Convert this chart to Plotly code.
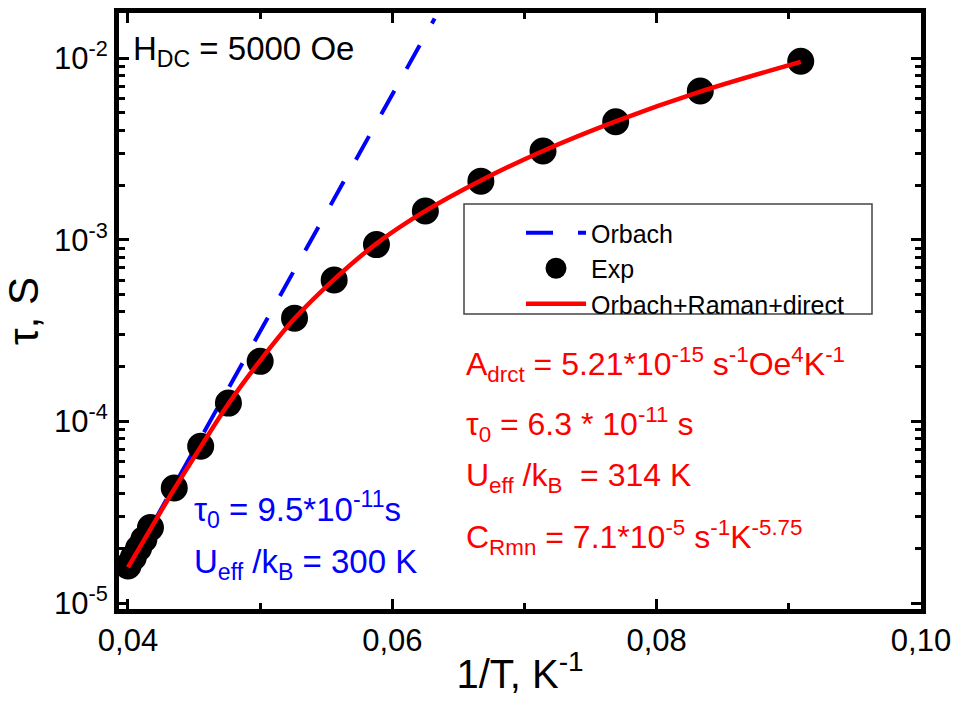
import plotly.graph_objects as go

# ---- data ----
exp_x = [0.0400, 0.0404, 0.0408, 0.0412, 0.0417, 0.0435, 0.0455, 0.0476, 0.0500,
         0.0526, 0.0556, 0.0588, 0.0625, 0.0667, 0.0714, 0.0769, 0.0833, 0.0909]
exp_y = [1.6e-5, 1.78e-5, 2.0e-5, 2.24e-5, 2.6e-5, 4.3e-5, 7.3e-5, 1.26e-4, 2.14e-4,
         3.7e-4, 6.0e-4, 9.4e-4, 1.44e-3, 2.1e-3, 3.08e-3, 4.46e-3, 6.58e-3, 9.6e-3]

fit_x = [0.0400, 0.0417, 0.0435, 0.0455, 0.0476, 0.0500, 0.0526, 0.0556, 0.0588,
         0.0625, 0.0667, 0.0714, 0.0769, 0.0833, 0.0909]
fit_y = [1.57e-5, 2.55e-5, 4.24e-5, 7.23e-5, 1.25e-4, 2.16e-4, 3.68e-4, 6.05e-4, 9.52e-4,
         1.44e-3, 2.12e-3, 3.08e-3, 4.48e-3, 6.53e-3, 9.52e-3]

orbach_x = [0.0400, 0.0632]
orbach_y = [1.55e-5, 1.65e-2]

x_tickvals = [0.04, 0.06, 0.08, 0.10]
x_ticktext = ["0,04", "0,06", "0,08", "0,10"]
x_minor = [0.05, 0.07, 0.09]
y_tickvals = [1e-5, 1e-4, 1e-3, 1e-2]
y_ticktext = ["10<sup>-5</sup>", "10<sup>-4</sup>", "10<sup>-3</sup>", "10<sup>-2</sup>"]
y_minor = [m * 10.0 ** e for e in (-5, -4, -3) for m in range(2, 10)]

FONT = "Liberation Sans, Arial, sans-serif"
W, H = 960, 704
L, R, T, B = 119, 39, 13, 95
PW, PH = W - L - R, H - T - B


def px(x):
    return (x - L) / PW


def py(y):
    return (H - B - y) / PH


fig = go.Figure()
fig.add_trace(go.Scatter(x=orbach_x, y=orbach_y, mode="lines", name="Orbach",
                         line=dict(color="#0000ff", width=4, dash="27px,25px")))
fig.add_trace(go.Scatter(x=exp_x, y=exp_y, mode="markers", name="Exp",
                         marker=dict(color="black", size=22, line=dict(width=5, color="black"))))
fig.add_trace(go.Scatter(x=fit_x, y=fit_y, mode="lines", name="Orbach+Raman+direct",
                         line=dict(color="#ff0000", width=4.5, shape="spline")))

axis_common = dict(showgrid=False, zeroline=False, showline=True, linecolor="black",
                   linewidth=5, mirror="allticks", ticks="inside", tickcolor="black",
                   tickwidth=3, ticklen=10,
                   tickfont=dict(family=FONT, size=31, color="black"))

fig.update_xaxes(range=[0.03932, 0.1], tickmode="array", tickvals=x_tickvals,
                 ticktext=x_ticktext,
                 minor=dict(tickmode="array", tickvals=x_minor, ticks="inside",
                            ticklen=6, tickwidth=3, tickcolor="black", showgrid=False),
                 title=dict(text="1/T, K<sup>-1</sup>", font=dict(family=FONT, size=40, color="black"),
                            standoff=4),
                 automargin=False, **axis_common)
fig.update_yaxes(type="log", range=[-5.033, -1.752], tickmode="array", tickvals=y_tickvals,
                 ticktext=y_ticktext,
                 minor=dict(tickmode="array", tickvals=y_minor, ticks="inside",
                            ticklen=6, tickwidth=3, tickcolor="black", showgrid=False),
                 title=dict(text="τ, S", font=dict(family=FONT, size=42, color="black"),
                            standoff=6),
                 automargin=False, **axis_common)

ann = []
ann.append(dict(text="H<sub>DC</sub> = 5000 Oe", x=px(131), y=py(51), color="black", size=33))
ann.append(dict(text="τ<sub>0</sub> = 9.5*10<sup>-11</sup>s", x=px(192), y=py(509), color="#0000ff", size=33))
ann.append(dict(text="U<sub>eff</sub> /k<sub>B</sub> = 300 K", x=px(192), y=py(564), color="#0000ff", size=33))
ann.append(dict(text="A<sub>drct</sub> = 5.21*10<sup>-15</sup> s<sup>-1</sup>Oe<sup>4</sup>K<sup>-1</sup>",
                x=px(464), y=py(364), color="#ff0000", size=32))
ann.append(dict(text="τ<sub>0</sub> = 6.3 * 10<sup>-11</sup> s", x=px(464), y=py(424), color="#ff0000", size=32))
ann.append(dict(text="U<sub>eff</sub> /k<sub>B</sub>  = 314 K", x=px(464), y=py(477), color="#ff0000", size=32))
ann.append(dict(text="C<sub>Rmn</sub> = 7.1*10<sup>-5</sup> s<sup>-1</sup>K<sup>-5.75</sup>",
                x=px(464), y=py(537), color="#ff0000", size=32))

fig.update_layout(
    width=W, height=H, margin=dict(l=L, r=R, t=T, b=B),
    paper_bgcolor="white", plot_bgcolor="white",
    font=dict(family=FONT, color="black"),
    showlegend=True,
    legend=dict(x=px(521), y=py(210), xanchor="left", yanchor="top",
                bgcolor="rgba(0,0,0,0)", borderwidth=0, itemwidth=60,
                font=dict(family=FONT, size=25, color="black"), tracegroupgap=0),
    shapes=[dict(type="rect", xref="paper", yref="paper", x0=px(464), x1=px(872),
                 y0=py(314), y1=py(204), line=dict(color="#444444", width=1.5),
                 fillcolor="rgba(0,0,0,0)", layer="below")],
    annotations=[dict(text=a["text"], x=a["x"], y=a["y"], xref="paper", yref="paper",
                      xanchor="left", yanchor="middle", showarrow=False,
                      font=dict(family=FONT, size=a["size"], color=a["color"])) for a in ann],
)

fig.write_html("out.html")
